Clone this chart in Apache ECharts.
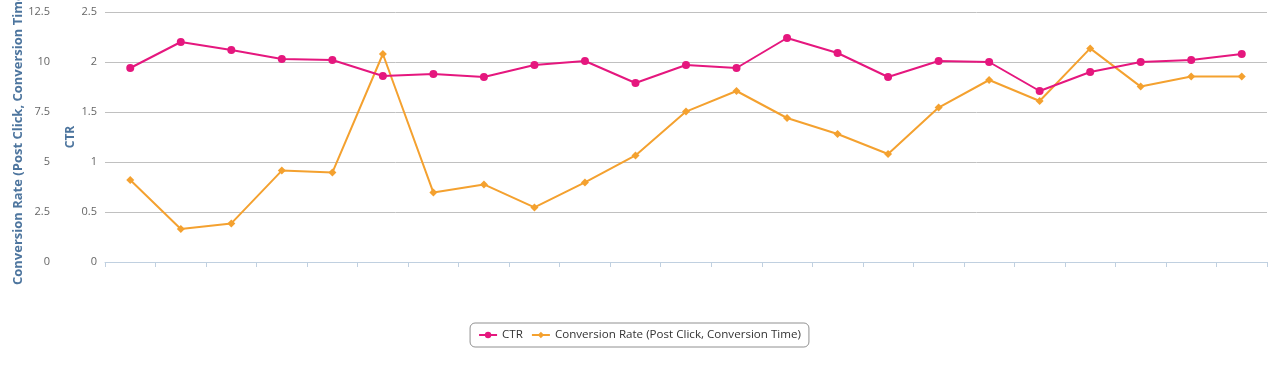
<!DOCTYPE html>
<html>
<head>
<meta charset="utf-8">
<script src="https://cdn.jsdelivr.net/npm/echarts@6/dist/echarts.min.js"></script>
<style>html,body{margin:0;padding:0;background:#fff}#c{width:1279px;height:365px}</style>
</head>
<body>
<div id="c"></div>
<script>
const categories = ['', '', '', '', '', '', '', '', '', '', '', '', '', '', '', '', '', '', '', '', '', '', ''];
const ctr = [1.94, 2.20, 2.12, 2.03, 2.02, 1.86, 1.88, 1.85, 1.97, 2.01, 1.79, 1.97, 1.94, 2.24, 2.09, 1.85, 2.01, 2.00, 1.71, 1.90, 2.00, 2.02, 2.08];
const conversion = [4.10, 1.65, 1.93, 4.57, 4.47, 10.4, 3.47, 3.88, 2.73, 3.98, 5.33, 7.52, 8.55, 7.2, 6.4, 5.4, 7.72, 9.1, 8.05, 10.68, 8.77, 9.27, 9.27];
const ctrTicks = { min: 0, max: 2.5, interval: 0.5 };
const convTicks = { min: 0, max: 12.5, interval: 2.5 };

const FONT = '"Open Sans", "DejaVu Sans", sans-serif';
const chart = echarts.init(document.getElementById('c'), null, { renderer: 'canvas' });
chart.setOption({
  animation: false,
  textStyle: { fontFamily: FONT },
  grid: { left: 105, right: 12, top: 12, bottom: 103, containLabel: false, outerBoundsMode: 'none' },
  legend: {
    bottom: 18,
    left: 'center',
    data: ['CTR', 'Conversion Rate (Post Click, Conversion Time)'],
    borderColor: '#909090',
    borderWidth: 1,
    borderRadius: 5,
    padding: [6, 8],
    itemGap: 8,
    itemWidth: 18,
    itemHeight: 8,
    textStyle: { fontSize: 11.6, color: '#333', fontFamily: FONT }
  },
  xAxis: {
    type: 'category',
    data: categories,
    boundaryGap: true,
    axisLine: { lineStyle: { color: '#c0d0e0', width: 1 } },
    axisTick: { show: true, length: 5, lineStyle: { color: '#c0d0e0' } },
    axisLabel: { show: false },
    splitLine: { show: false }
  },
  yAxis: [
    {
      type: 'value',
      name: 'CTR',
      nameLocation: 'middle',
      nameGap: 28,
      nameRotate: 90,
      nameMoveOverlap: false,
      nameTextStyle: { color: '#4d759e', fontWeight: 'bold', fontSize: 12, fontFamily: FONT },
      min: ctrTicks.min, max: ctrTicks.max, interval: ctrTicks.interval,
      position: 'left',
      axisLine: { show: false },
      axisTick: { show: false },
      axisLabel: { color: '#666', fontSize: 11, margin: 8, fontFamily: FONT },
      splitLine: { show: true, lineStyle: { color: '#c0c0c0', width: 1 } }
    },
    {
      type: 'value',
      name: 'Conversion Rate (Post Click, Conversion Time)',
      nameLocation: 'middle',
      nameGap: 33,
      nameRotate: 90,
      nameMoveOverlap: false,
      nameTextStyle: { color: '#4d759e', fontWeight: 'bold', fontSize: 13, fontFamily: FONT },
      min: convTicks.min, max: convTicks.max, interval: convTicks.interval,
      position: 'left',
      offset: 47,
      axisLine: { show: false },
      axisTick: { show: false },
      axisLabel: { color: '#666', fontSize: 11, margin: 8, fontFamily: FONT },
      splitLine: { show: false }
    }
  ],
  series: [
    {
      name: 'CTR',
      type: 'line',
      yAxisIndex: 0,
      data: ctr,
      symbol: 'circle',
      symbolSize: 8,
      showAllSymbol: true,
      lineStyle: { color: '#e5177e', width: 2 },
      itemStyle: { color: '#e5177e' },
      z: 3
    },
    {
      name: 'Conversion Rate (Post Click, Conversion Time)',
      type: 'line',
      yAxisIndex: 1,
      data: conversion,
      symbol: 'diamond',
      symbolSize: 8,
      showAllSymbol: true,
      lineStyle: { color: '#f4a12f', width: 2 },
      itemStyle: { color: '#f4a12f' },
      z: 2
    }
  ]
});
</script>
</body>
</html>
